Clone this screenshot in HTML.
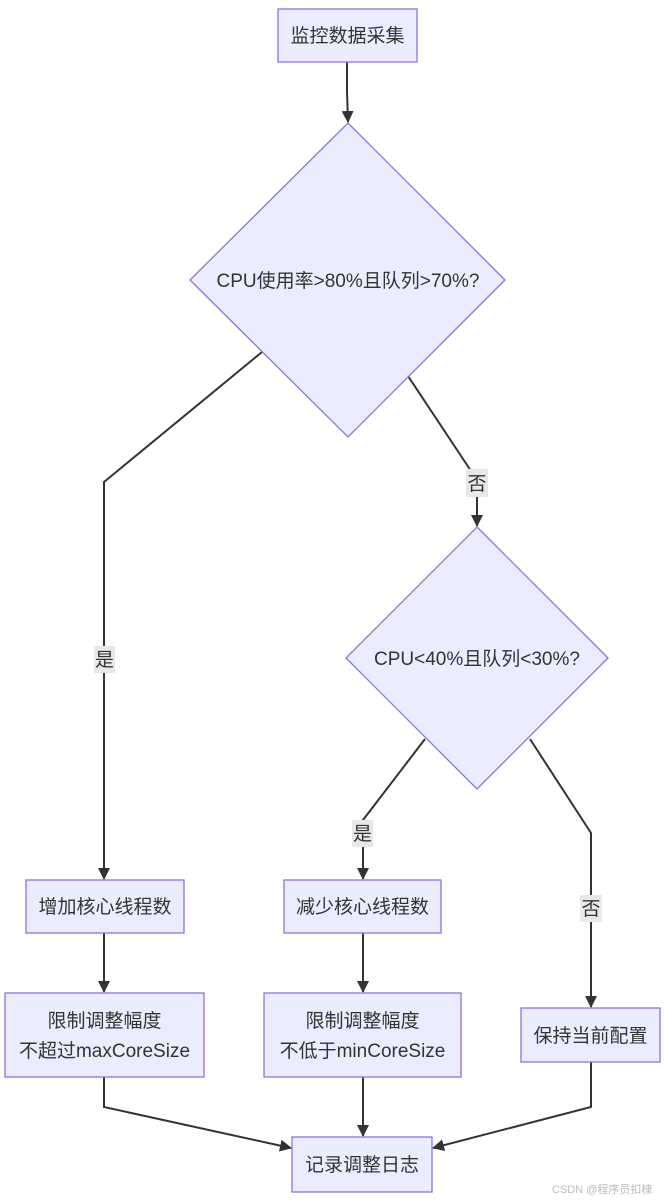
<!DOCTYPE html>
<html><head><meta charset="utf-8"><style>
html,body{margin:0;padding:0;background:#fff;}
svg{display:block;}
text{font-family:"Liberation Sans","Noto Sans CJK SC",sans-serif;font-size:19px;fill:#333;}
.n{fill:#ECECFF;stroke:#9370DB;stroke-width:1.3;}
.e{fill:none;stroke:#333;stroke-width:2;}
.lb{fill:#e8e8e8;}
</style></head><body>
<svg width="665" height="1202" viewBox="0 0 665 1202">
<defs><marker id="a" markerWidth="12" markerHeight="12" refX="11" refY="6" orient="auto" markerUnits="userSpaceOnUse"><path d="M0,0 L12,6 L0,12 z" fill="#333"/></marker></defs>
<path class="e" d="M347,62 L347,92 L348,122" marker-end="url(#a)"/>
<path class="e" d="M262,352 L104,482 L104,879" marker-end="url(#a)"/>
<path class="e" d="M408,376 L477,480 L477,526" marker-end="url(#a)"/>
<path class="e" d="M425,739 L363,820 L363,879" marker-end="url(#a)"/>
<path class="e" d="M530,739 L591,833 L591,1007" marker-end="url(#a)"/>
<path class="e" d="M104,933 L104,992" marker-end="url(#a)"/>
<path class="e" d="M363,933 L363,992" marker-end="url(#a)"/>
<path class="e" d="M104,1077 L104,1107 L291,1148" marker-end="url(#a)"/>
<path class="e" d="M363,1077 L363,1136" marker-end="url(#a)"/>
<path class="e" d="M591,1062 L591,1107 L433,1148" marker-end="url(#a)"/>
<rect class="lb" x="94" y="646" width="21" height="27"/><text x="104.5" y="666" text-anchor="middle">是</text>
<rect class="lb" x="466" y="469" width="22" height="28"/><text x="477" y="490" text-anchor="middle">否</text>
<rect class="lb" x="352" y="820" width="21" height="27"/><text x="362.5" y="840" text-anchor="middle">是</text>
<rect class="lb" x="580" y="895" width="22" height="27"/><text x="591" y="915" text-anchor="middle">否</text>
<rect class="n" x="278" y="9" width="139" height="53"/>
<text x="347.5" y="42" text-anchor="middle">监控数据采集</text>
<polygon class="n" points="348,123 505,280 348,437 190,280"/>
<text x="348" y="287" text-anchor="middle">CPU使用率&gt;80%且队列&gt;70%?</text>
<polygon class="n" points="477,527 608,658 477,789 346,658"/>
<text x="477" y="665" text-anchor="middle">CPU&lt;40%且队列&lt;30%?</text>
<rect class="n" x="26" y="880" width="158" height="53"/>
<text x="105" y="913" text-anchor="middle">增加核心线程数</text>
<rect class="n" x="284" y="880" width="157" height="53"/>
<text x="362.5" y="913" text-anchor="middle">减少核心线程数</text>
<rect class="n" x="5" y="993" width="199" height="84"/>
<text x="104.5" y="1027" text-anchor="middle">限制调整幅度</text>
<text x="104.5" y="1057" text-anchor="middle">不超过maxCoreSize</text>
<rect class="n" x="264" y="993" width="197" height="84"/>
<text x="362.5" y="1027" text-anchor="middle">限制调整幅度</text>
<text x="362.5" y="1057" text-anchor="middle">不低于minCoreSize</text>
<rect class="n" x="521" y="1008" width="139" height="54"/>
<text x="590.5" y="1042" text-anchor="middle">保持当前配置</text>
<rect class="n" x="292" y="1137" width="140" height="55"/>
<text x="362" y="1171" text-anchor="middle">记录调整日志</text>
<text x="552" y="1193" style="font-size:11px;fill:#bbb">CSDN @程序员扣棣</text>
</svg>
</body></html>
